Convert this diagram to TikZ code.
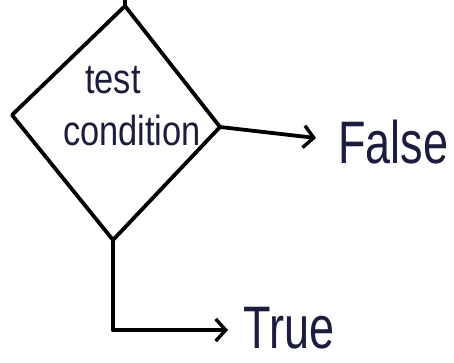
\documentclass[tikz,border=0pt]{standalone}
\usepackage{fontspec}
\setmainfont{Liberation Sans}
\usetikzlibrary{arrows.meta}
\definecolor{ink}{HTML}{1C1C3C}
\begin{document}
\begin{tikzpicture}[x=1pt,y=-1pt,
  pen/.style={line width=3.8pt,black,line join=round,line cap=round},
  arr/.style={pen,-{Straight Barb[length=10pt,width=22pt,line width=3.4pt]}},
  lbl/.style={text=ink,inner sep=0pt,font=\fontsize{60}{62}\selectfont},
  inlbl/.style={text=ink,inner sep=0pt,font=\fontsize{42}{44}\selectfont}]
\useasboundingbox (0,0) rectangle (454,362);
\coordinate (top) at (125,6);
\coordinate (topend) at (125,0);
\coordinate (left) at (12,115);
\coordinate (right) at (220,127);
\coordinate (bottom) at (113,240);
\coordinate (corner) at (113,330);
\coordinate (falseend) at (316,138);
\coordinate (trueend) at (228,330);
\draw[pen] (top) -- (left) -- (bottom) -- (right) -- cycle;
\draw[pen] (top) -- (topend);
\node[inlbl] (test) at (113,80) {\scalebox{0.82}[1]{test}};
\node[inlbl] (cond) at (132,130) {\scalebox{0.82}[1]{condition}};
\draw[arr] (right) -- (falseend);
\node[lbl,anchor=west] (false) at (338,142) {\scalebox{0.75}[1]{False}};
\draw[pen] (bottom) -- (corner);
\draw[arr] (corner) -- (trueend);
\node[lbl,anchor=west] (true) at (243,328) {\scalebox{0.75}[1]{True}};
\end{tikzpicture}
\end{document}
